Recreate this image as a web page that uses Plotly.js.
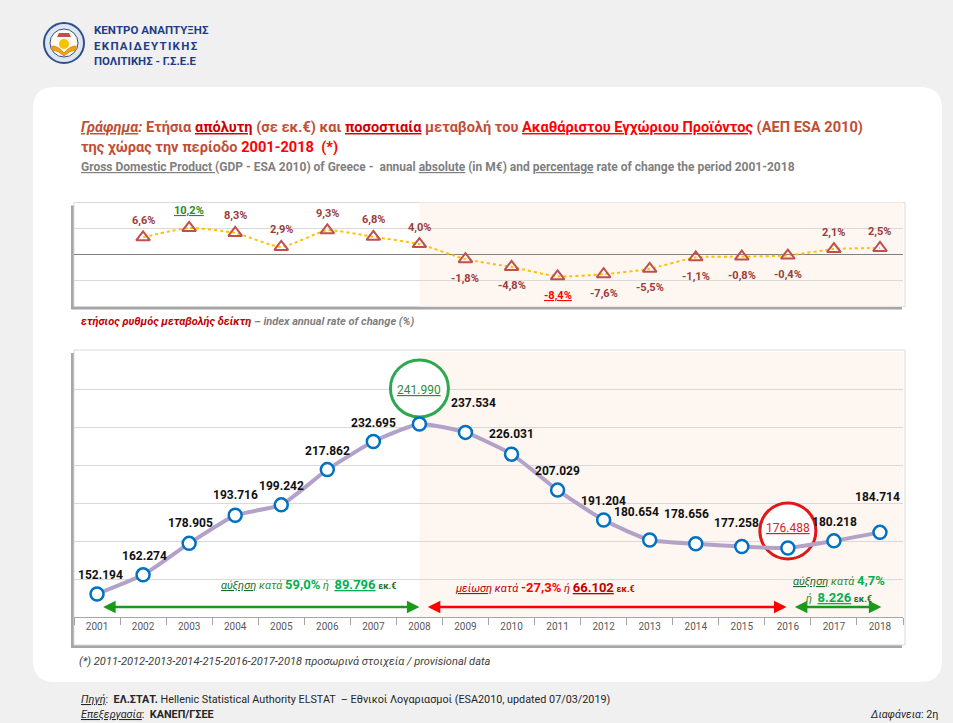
<!DOCTYPE html>
<html><head><meta charset="utf-8">
<script src="https://cdn.plot.ly/plotly-3.0.1.min.js"></script>
<style>html,body{margin:0;padding:0;background:#f0f0f0;}#chart{width:953px;height:723px;}</style>
</head><body><div id="chart"></div>
<script>
// ---------- data ----------
const years = ['2001','2002','2003','2004','2005','2006','2007','2008','2009','2010','2011','2012','2013','2014','2015','2016','2017','2018'];
const gdp = [152194,162274,178905,193716,199242,217862,232695,241990,237534,226031,207029,191204,180654,178656,177258,176488,180218,184714];
const pctYears = ['2002','2003','2004','2005','2006','2007','2008','2009','2010','2011','2012','2013','2014','2015','2016','2017','2018'];
const pctChange = [6.6,10.2,8.3,2.9,9.3,6.8,4.0,-1.8,-4.8,-8.4,-7.6,-5.5,-1.1,-0.8,-0.4,2.1,2.5];

// ---------- helpers ----------
const W = 953, H = 723;
const X = p => p / W, Y = p => 1 - p / H;
const FONT = "Roboto, 'Noto Sans', 'DejaVu Sans', sans-serif";
const fmtK = v => String(v).replace(/\B(?=(\d{3})+(?!\d))/g, '.');
const fmtPct = v => v.toFixed(1).replace('.', ',') + '%';
const idx = y => years.indexOf(y);   // category index on the shared year axis

// label placement offsets (pixels: dx, dy up) for the GDP labels
const gdpLabelOffsets = [[3,19],[1,19],[1,20],[0,20],[0,19],[0,19],[0,19],[0,34],[8,29],[0,20],[0,19],[0,19],[-13,28],[-9,30],[-5,23],[0,20],[1,19],[-2,35]];

function roundRect(x0, y0, x1, y1, r) {
  const P = (x, y) => X(x).toFixed(5) + ',' + Y(y).toFixed(5);
  return 'M' + P(x0 + r, y0) + ' L' + P(x1 - r, y0) + ' Q' + P(x1, y0) + ' ' + P(x1, y0 + r) +
    ' L' + P(x1, y1 - r) + ' Q' + P(x1, y1) + ' ' + P(x1 - r, y1) +
    ' L' + P(x0 + r, y1) + ' Q' + P(x0, y1) + ' ' + P(x0, y1 - r) +
    ' L' + P(x0, y0 + r) + ' Q' + P(x0, y0) + ' ' + P(x0 + r, y0) + ' Z';
}
function pRect(x0, y0, x1, y1, fill, line, lw) {
  return {type:'rect', xref:'paper', yref:'paper', x0:X(x0), x1:X(x1), y0:Y(y1), y1:Y(y0),
    fillcolor:fill, line:{color:line||'rgba(0,0,0,0)', width:lw||0}, layer:'below'};
}
function pCircle(cx, cy, r, fill, line, lw, layer) {
  return {type:'circle', xref:'paper', yref:'paper', x0:X(cx - r), x1:X(cx + r), y0:Y(cy + r), y1:Y(cy - r),
    fillcolor:fill, line:{color:line, width:lw}, layer:layer||'above'};
}

// ---------- traces ----------
const traces = [
  {x: pctYears, y: pctChange, xaxis:'x', yaxis:'y', type:'scatter', mode:'lines+markers',
   line:{color:'#ffc000', width:2, dash:'dot', shape:'spline', smoothing:0.5},
   marker:{symbol:'triangle-up-open', size:12, color:'#c0504d', line:{width:2, color:'#c0504d'}},
   hoverinfo:'skip'},
  {x: years, y: gdp, xaxis:'x2', yaxis:'y2', type:'scatter', mode:'lines+markers',
   line:{color:'#b3a2c7', width:4, shape:'spline', smoothing:0.5},
   marker:{symbol:'circle', size:13, color:'#ffffff', line:{width:2.5, color:'#0070c0'}},
   hoverinfo:'skip'}
];

const iMax = gdp.indexOf(Math.max(...gdp));
const iMin = gdp.lastIndexOf(Math.min(...gdp.slice(iMax)));

// ---------- shapes ----------
const shapes = [];
shapes.push({type:'path', xref:'paper', yref:'paper', path: roundRect(33, 87, 942, 682, 22), fillcolor:'#ffffff', line:{color:'#ffffff', width:0}, layer:'below'});
// top chart box
shapes.push(pRect(71, 205.5, 902, 309.5, '#a6a6a6'));
shapes.push(pRect(74, 202.5, 905, 306.5, '#ffffff', '#d9d9d9', 1));
// bottom chart box
shapes.push(pRect(71, 353, 902, 648, '#a6a6a6'));
shapes.push(pRect(74, 350, 905, 645, '#ffffff', '#d9d9d9', 1));
// shaded period (2008 onwards)
shapes.push({type:'rect', xref:'x', yref:'y domain', x0:idx('2008'), x1:17.5, y0:0, y1:1, fillcolor:'#fdf6f1', line:{width:0}, layer:'below'});
shapes.push({type:'rect', xref:'x2', yref:'y2 domain', x0:idx('2008'), x1:17.5, y0:0, y1:1, fillcolor:'#fdf6f1', line:{width:0}, layer:'below'});
// highlight circles
shapes.push({type:'circle', xref:'x2', yref:'y2', xsizemode:'pixel', ysizemode:'pixel',
  xanchor:iMax, yanchor:gdp[iMax], x0:-29, x1:29, y0:7, y1:64,
  fillcolor:'#ffffff', line:{color:'#2ea84f', width:3}, layer:'between'});
shapes.push({type:'circle', xref:'x2', yref:'y2', xsizemode:'pixel', ysizemode:'pixel',
  xanchor:iMin, yanchor:gdp[iMin], x0:-28, x1:28, y0:-11, y1:45,
  fillcolor:'#ffffff', line:{color:'#e01818', width:3}, layer:'between'});
// logo
shapes.push(pCircle(64, 43, 20, '#dfe6f2', '#2f4f8f', 2));
shapes.push(pCircle(64, 43, 14, '#fffaf0', '#2f4f8f', 1));
shapes.push(pCircle(64, 44, 5, '#f7c200', '#f7c200', 0));
shapes.push({type:'path', xref:'paper', yref:'paper', layer:'above', fillcolor:'#f0a020', line:{color:'#e08a10', width:1},
  path:'M'+X(52)+','+Y(46)+' Q'+X(58)+','+Y(46)+' '+X(64)+','+Y(53)+' Q'+X(70)+','+Y(46)+' '+X(76)+','+Y(46)+' L'+X(76)+','+Y(50)+' Q'+X(70)+','+Y(50)+' '+X(64)+','+Y(56)+' Q'+X(58)+','+Y(50)+' '+X(52)+','+Y(50)+' Z'});
shapes.push({type:'path', xref:'paper', yref:'paper', layer:'above', fillcolor:'#c0504d', line:{color:'#c0504d', width:0},
  path:'M'+X(57)+','+Y(37)+' L'+X(71)+','+Y(37)+' L'+X(69)+','+Y(33)+' L'+X(59)+','+Y(33)+' Z'});

// ---------- annotations ----------
const ann = [];
function pText(x, y, text, size, color, opts) {
  return Object.assign({xref:'paper', yref:'paper', x:X(x), y:Y(y), text:text, showarrow:false,
    xanchor:'left', yanchor:'middle', align:'left', font:{family:FONT, size:size, color:color}}, opts||{});
}
// logo text
ann.push(pText(92, 30, '<b>ΚΕΝΤΡΟ ΑΝΑΠΤΥΞΗΣ</b>', 11.5, '#1f3c88'));
ann.push(pText(92, 46, '<b><span style="letter-spacing:1.3px">ΕΚΠΑΙΔΕΥΤΙΚΗΣ</span></b>', 11.5, '#1f3c88'));
ann.push(pText(92, 61, '<b>ΠΟΛΙΤΙΚΗΣ - Γ.Σ.Ε.Ε</b>', 11.4, '#1f3c88'));

// titles
const C1 = '#c24e35', CR = '#ff0000', CD = '#d00000';
ann.push(pText(79, 127,
  '<b><i><u>Γράφημα</u>:</i> Ετήσια <span style="color:'+CD+'"><u>απόλυτη</u></span> (σε εκ.€) και <span style="color:'+CD+'"><u>ποσοστιαία</u></span> μεταβολή του <span style="color:'+CR+'"><u>Ακαθάριστου Εγχώριου Προϊόντος</u></span> (ΑΕΠ ESA 2010)</b>',
  14.6, C1));
ann.push(pText(79, 147,
  '<b>της χώρας την περίοδο <span style="color:'+CR+'">2001-2018</span>  <span style="color:'+CR+'">(*)</span></b>', 14.6, C1));
ann.push(pText(79, 167,
  '<b><u>Gross Domestic Product </u>(GDP - ESA 2010) of Greece -  annual <u>absolute</u> (in M€) and <u>percentage</u> rate of change the period 2001-2018</b>',
  12, '#7f7f7f'));
// caption under top chart
ann.push(pText(79, 321,
  '<b><i><span style="color:#c00000">ετήσιος ρυθμός μεταβολής δείκτη</span> – index annual rate of change (%)</i></b>', 11, '#7f7f7f'));
// footnote
ann.push(pText(77, 661,
  '<i>(*) 2011-2012-2013-2014-215-2016-2017-2018 προσωρινά στοιχεία / provisional data</i>', 11.1, '#404040'));
// footer
ann.push(pText(79, 699,
  '<i><u>Πηγή</u></i>:  <b>ΕΛ.ΣΤΑΤ.</b> Hellenic Statistical Authority ELSTAT  – Εθνικοί Λογαριασμοί (ESA2010, updated 07/03/2019)', 10.8, '#262626'));
ann.push(pText(79, 714, '<i><u>Επεξεργασία</u></i>:  <b>ΚΑΝΕΠ/ΓΣΕΕ</b>', 10.8, '#262626'));
ann.push(pText(940, 714, '<i>Διαφάνεια</i>: 2η', 10.8, '#262626', {xanchor:'right'}));

// percentage labels
const pMax = Math.max(...pctChange), pMin = Math.min(...pctChange);
pctChange.forEach((v, i) => {
  let txt = '<b>' + fmtPct(v) + '</b>', col = '#9b3d3a';
  if (v === pMax) { txt = '<b><u>' + fmtPct(v) + '</u></b>'; col = '#2a8a2a'; }
  if (v === pMin) { txt = '<b><u>' + fmtPct(v) + '</u></b>'; col = '#ff0000'; }
  ann.push({xref:'x', yref:'y', x:idx(pctYears[i]), y:v, text:txt, showarrow:false,
    xanchor:'center', yanchor:'middle', yshift: v >= 0 ? 17 : -19,
    font:{family:FONT, size:11, color:col}});
});

// GDP labels
gdp.forEach((v, i) => {
  let txt = '<b>' + fmtK(v) + '</b>', col = '#111111';
  if (i === iMax) { txt = '<u>' + fmtK(v) + '</u>'; col = '#2e8b3e'; }
  if (i === iMin) { txt = '<u>' + fmtK(v) + '</u>'; col = '#e02020'; }
  ann.push({xref:'x2', yref:'y2', x:i, y:v, text:txt, showarrow:false,
    xanchor:'center', yanchor:'middle', xshift:gdpLabelOffsets[i][0], yshift:gdpLabelOffsets[i][1],
    font:{family:FONT, size:12, color:col}});
});

// period arrows + texts
const arrowY = 145300;
function arrow(x0, x1, color) {
  return {xref:'x2', yref:'y2', axref:'x2', ayref:'y2', x:x1, y:arrowY, ax:x0, ay:arrowY, text:'',
    showarrow:true, arrowhead:2, arrowside:'end+start', arrowsize:1, arrowwidth:2.5, arrowcolor:color,
    standoff:0, startstandoff:0};
}
ann.push(arrow(0.1, 7, '#1a9a1a'));
ann.push(arrow(7.15, 14.97, '#ff0000'));
ann.push(arrow(15.12, 17.03, '#1a9a1a'));

ann.push(pText(308, 584,
  '<i><span style="color:#1e6b1e"><u>αύξηση</u></span> κατά </i><b><span style="font-size:13px;color:#00b050">59,0%</span></b><i> ή </i> <b><span style="font-size:13px;color:#00b050"><u>89.796</u></span> <span style="font-size:9px;color:#1e6b1e">εκ.€</span></b>',
  11, '#2e8b2e', {xanchor:'center'}));
ann.push(pText(545, 587,
  '<i><u>μείωση</u> κατά </i><b><span style="font-size:13px;color:#ff0000">-27,3%</span></b><i> ή </i><b><span style="font-size:13px"><u>66.102</u></span> <span style="font-size:9px">εκ.€</span></b>',
  11, '#c00000', {xanchor:'center'}));
ann.push(pText(839, 580,
  '<i><span style="color:#1e6b1e"><u>αύξηση</u></span> κατά </i><b><span style="font-size:13px;color:#00b050">4,7%</span></b>',
  11, '#2e8b2e', {xanchor:'center'}));
ann.push(pText(839, 597,
  '<i>ή </i> <b><span style="font-size:13px;color:#00b050"><u>8.226</u></span> <span style="font-size:9px;color:#1e6b1e">εκ.€</span></b>',
  11, '#2e8b2e', {xanchor:'center'}));

// ---------- layout ----------
const xDom = [X(74), X(903)];
const layout = {
  width: W, height: H, autosize:false,
  margin:{l:0, r:0, t:0, b:0, pad:0},
  paper_bgcolor:'#f0f0f0', plot_bgcolor:'rgba(0,0,0,0)',
  showlegend:false, hovermode:false,
  font:{family:FONT},
  xaxis:{domain:xDom, anchor:'y', type:'category', categoryorder:'array', categoryarray:years,
    range:[-0.5, 17.5], showgrid:false, showline:false, showticklabels:false, ticks:'', zeroline:false, fixedrange:true},
  yaxis:{domain:[Y(306.5), Y(202.5)], anchor:'x', range:[-20, 20], dtick:10, showgrid:true, gridcolor:'#d9d9d9', gridwidth:1,
    zeroline:true, zerolinecolor:'#808080', zerolinewidth:1, showticklabels:false, ticks:'', showline:false, fixedrange:true},
  xaxis2:{domain:xDom, anchor:'y2', type:'category', categoryorder:'array', categoryarray:years,
    range:[-0.5, 17.5], showgrid:false, showline:true, linecolor:'#a6a6a6', linewidth:1,
    ticks:'outside', tickson:'boundaries', ticklen:7, tickcolor:'#a6a6a6', tickwidth:1,
    tickfont:{family:FONT, size:10, color:'#595959'}, fixedrange:true},
  yaxis2:{domain:[Y(617), Y(352)], anchor:'x2', range:[140000, 280000], dtick:20000, showgrid:true, gridcolor:'#d9d9d9', gridwidth:1,
    zeroline:false, showticklabels:false, ticks:'', showline:false, fixedrange:true},
  shapes: shapes,
  annotations: ann
};
Plotly.newPlot('chart', traces, layout, {staticPlot:true, displayModeBar:false});
</script>
</body></html>
